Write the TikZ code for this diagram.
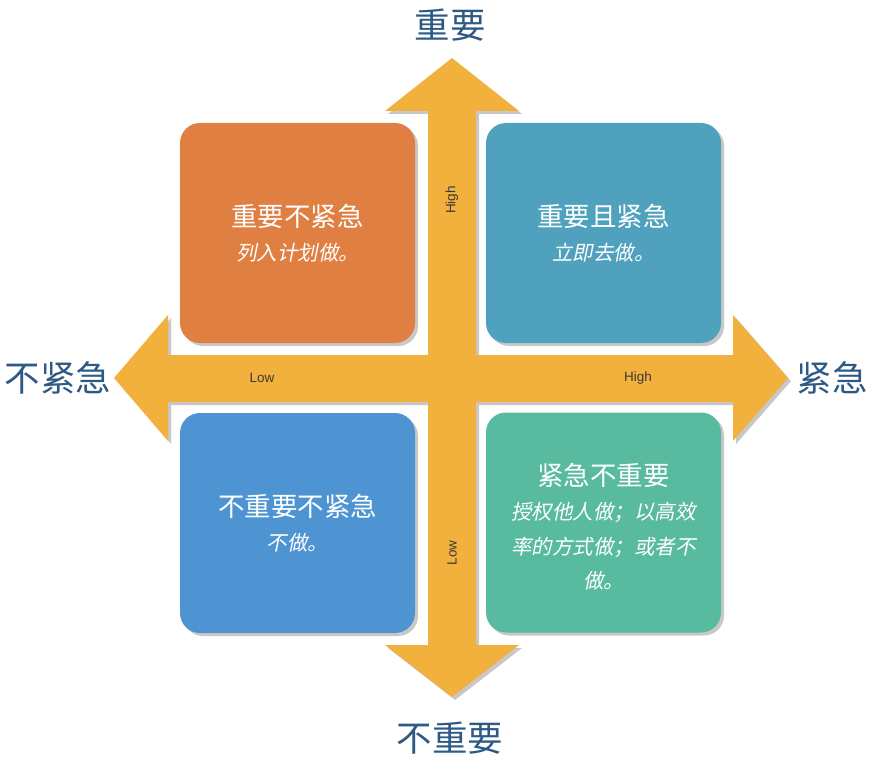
\documentclass[tikz,border=0pt]{standalone}
\usepackage{fontspec}
\newfontfamily\cjk{Noto Sans CJK SC}
\newfontfamily\cjkit[FakeSlant=0.2]{Noto Sans CJK SC}
\newfontfamily\axisfont{Liberation Sans}
\usetikzlibrary{shadows}
\definecolor{arrowc}{HTML}{F2B03D}
\definecolor{qorange}{HTML}{E07F42}
\definecolor{qteal}{HTML}{4FA1BD}
\definecolor{qblue}{HTML}{4E94D2}
\definecolor{qgreen}{HTML}{58BA9E}
\definecolor{lblc}{HTML}{2D5985}
\definecolor{axc}{HTML}{3A3A3A}
\definecolor{shadc}{HTML}{C8C8C8}
\tikzset{
  qbox/.style={rounded corners=20pt, minimum width=235pt, minimum height=220pt,
    text=white, align=center, inner sep=4pt,
    font=\cjkit\fontsize{20.5}{34.5}\selectfont,
    drop shadow={shadow xshift=3pt, shadow yshift=-3pt, fill=shadc, opacity=1}},
  qtext/.style={text=white, align=center, font=\cjkit\fontsize{20.5}{34.5}\selectfont},
  bigl/.style={text=lblc, font=\cjk\fontsize{35.5}{38}\selectfont},
  axl/.style={text=axc, font=\axisfont\fontsize{13.5}{15}\selectfont}
}
\newcommand{\qttl}{\cjk\fontsize{26.5}{34.5}\selectfont}
\begin{document}
\begin{tikzpicture}[x=1pt,y=-1pt]
\useasboundingbox (0,0) rectangle (876,762);
% arrows: shadow
\begin{scope}[shift={(3,3)}]
\fill[shadc] (452,58) -- (519,111) -- (476,111) -- (476,645) -- (519,645) -- (452,697) -- (385,645) -- (428,645) -- (428,111) -- (385,111) -- cycle;
\fill[shadc] (114,378) -- (168,315) -- (168,355) -- (733,355) -- (733,315) -- (788,378) -- (733,441) -- (733,402) -- (168,402) -- (168,441) -- cycle;
\end{scope}
\fill[arrowc] (452,58) -- (519,111) -- (476,111) -- (476,645) -- (519,645) -- (452,697) -- (385,645) -- (428,645) -- (428,111) -- (385,111) -- cycle;
\fill[arrowc] (114,378) -- (168,315) -- (168,355) -- (733,355) -- (733,315) -- (788,378) -- (733,441) -- (733,402) -- (168,402) -- (168,441) -- cycle;
% quadrant boxes
\node[qbox, fill=qorange] (tl) at (297.5,233) {{\qttl 重要不紧急}\\列入计划做。};
\node[qbox, fill=qteal] (tr) at (603.5,233) {{\qttl 重要且紧急}\\立即去做。};
\node[qbox, fill=qblue] (bl) at (297.5,523) {{\qttl 不重要不紧急}\\不做。};
\node[qbox, fill=qgreen] (br) at (603.5,522.5) {};
\node[qtext] (brt) at (603.5,526.5) {{\qttl 紧急不重要}\\授权他人做；以高效\\率的方式做；或者不\\做。};
% axis labels
\node[axl, rotate=90] (hi) at (452,200) {High};
\node[axl, rotate=90] (lo) at (452,553) {Low};
\node[axl] (lol) at (262,378) {Low};
\node[axl] (hir) at (638,378) {High};
% outer labels
\node[bigl] (top) at (450,25) {重要};
\node[bigl] (bot) at (450,738) {不重要};
\node[bigl] (lft) at (58,378) {不紧急};
\node[bigl] (rgt) at (832,378) {紧急};
\end{tikzpicture}
\end{document}
